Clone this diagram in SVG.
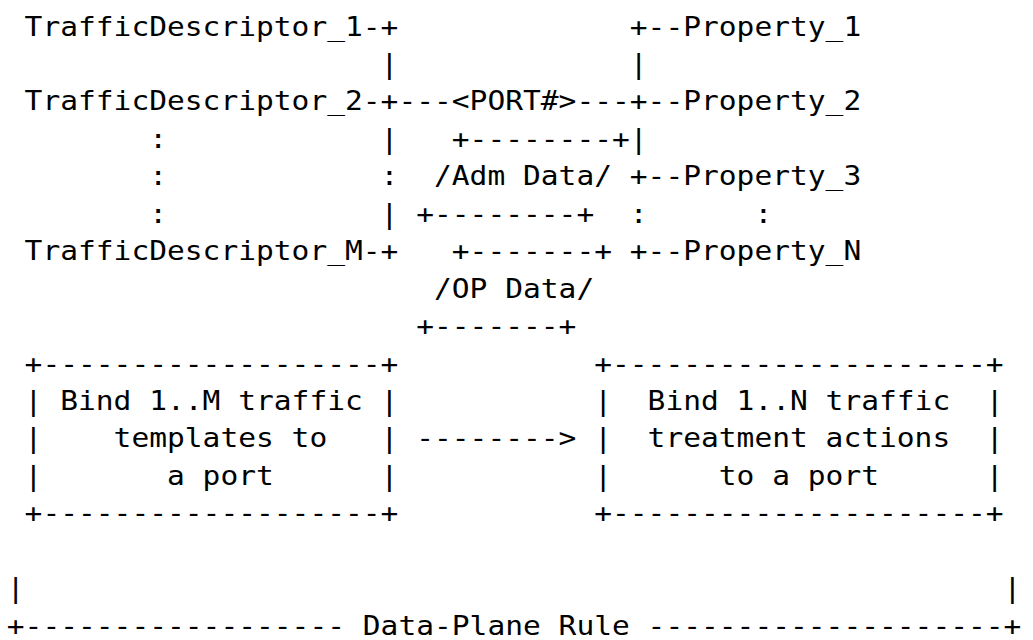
<svg xmlns="http://www.w3.org/2000/svg" width="1033" height="640" viewBox="0 0 1033 640">
<style>
text { font-family: "DejaVu Sans Mono", "Liberation Mono", monospace; font-size: 27px; fill: #000; }
</style>
<rect width="1033" height="640" fill="#fff"/>
<g id="connectors">
<text x="362.8" y="35.5" textLength="35.6" lengthAdjust="spacingAndGlyphs">-+</text>
<text x="629.8" y="35.5" textLength="53.4" lengthAdjust="spacingAndGlyphs">+--</text>
<text x="380.6" y="72.95" textLength="17.8" lengthAdjust="spacingAndGlyphs">|</text>
<text x="629.8" y="72.95" textLength="17.8" lengthAdjust="spacingAndGlyphs">|</text>
<text x="362.8" y="110.4" textLength="89" lengthAdjust="spacingAndGlyphs">-+---</text>
<text x="576.4" y="110.4" textLength="106.8" lengthAdjust="spacingAndGlyphs">---+--</text>
<text x="380.6" y="147.85" textLength="17.8" lengthAdjust="spacingAndGlyphs">|</text>
<text x="629.8" y="147.85" textLength="17.8" lengthAdjust="spacingAndGlyphs">|</text>
<text x="380.6" y="185.3" textLength="17.8" lengthAdjust="spacingAndGlyphs">:</text>
<text x="629.8" y="185.3" textLength="53.4" lengthAdjust="spacingAndGlyphs">+--</text>
<text x="380.6" y="222.75" textLength="17.8" lengthAdjust="spacingAndGlyphs">|</text>
<text x="629.8" y="222.75" textLength="17.8" lengthAdjust="spacingAndGlyphs">:</text>
<text x="362.8" y="260.2" textLength="35.6" lengthAdjust="spacingAndGlyphs">-+</text>
<text x="629.8" y="260.2" textLength="53.4" lengthAdjust="spacingAndGlyphs">+--</text>
<text x="416.2" y="447.45" textLength="160.2" lengthAdjust="spacingAndGlyphs">--------&gt;</text>
</g>
<g id="traffic-descriptors">
<text x="24.6" y="35.5" textLength="338.2" lengthAdjust="spacingAndGlyphs">TrafficDescriptor_1</text>
<text x="24.6" y="110.4" textLength="338.2" lengthAdjust="spacingAndGlyphs">TrafficDescriptor_2</text>
<text x="149.2" y="147.85" textLength="17.8" lengthAdjust="spacingAndGlyphs">:</text>
<text x="149.2" y="185.3" textLength="17.8" lengthAdjust="spacingAndGlyphs">:</text>
<text x="149.2" y="222.75" textLength="17.8" lengthAdjust="spacingAndGlyphs">:</text>
<text x="24.6" y="260.2" textLength="338.2" lengthAdjust="spacingAndGlyphs">TrafficDescriptor_M</text>
</g>
<g id="properties">
<text x="683.2" y="35.5" textLength="178" lengthAdjust="spacingAndGlyphs">Property_1</text>
<text x="683.2" y="110.4" textLength="178" lengthAdjust="spacingAndGlyphs">Property_2</text>
<text x="683.2" y="185.3" textLength="178" lengthAdjust="spacingAndGlyphs">Property_3</text>
<text x="754.4" y="222.75" textLength="17.8" lengthAdjust="spacingAndGlyphs">:</text>
<text x="683.2" y="260.2" textLength="178" lengthAdjust="spacingAndGlyphs">Property_N</text>
</g>
<g id="port">
<text x="451.8" y="110.4" textLength="124.6" lengthAdjust="spacingAndGlyphs">&lt;PORT#&gt;</text>
</g>
<g id="adm-data">
<text x="451.8" y="147.85" textLength="178" lengthAdjust="spacingAndGlyphs">+--------+</text>
<text x="434" y="185.3" textLength="178" lengthAdjust="spacingAndGlyphs">/Adm Data/</text>
<text x="416.2" y="222.75" textLength="178" lengthAdjust="spacingAndGlyphs">+--------+</text>
</g>
<g id="op-data">
<text x="451.8" y="260.2" textLength="160.2" lengthAdjust="spacingAndGlyphs">+-------+</text>
<text x="434" y="297.65" textLength="160.2" lengthAdjust="spacingAndGlyphs">/OP Data/</text>
<text x="416.2" y="335.1" textLength="160.2" lengthAdjust="spacingAndGlyphs">+-------+</text>
</g>
<g id="bind-templates">
<text x="24.6" y="372.55" textLength="373.8" lengthAdjust="spacingAndGlyphs">+-------------------+</text>
<text x="24.6" y="410" textLength="17.8" lengthAdjust="spacingAndGlyphs">|</text>
<text x="60.2" y="410" textLength="302.6" lengthAdjust="spacingAndGlyphs">Bind 1..M traffic</text>
<text x="380.6" y="410" textLength="17.8" lengthAdjust="spacingAndGlyphs">|</text>
<text x="24.6" y="447.45" textLength="17.8" lengthAdjust="spacingAndGlyphs">|</text>
<text x="113.6" y="447.45" textLength="213.6" lengthAdjust="spacingAndGlyphs">templates to</text>
<text x="380.6" y="447.45" textLength="17.8" lengthAdjust="spacingAndGlyphs">|</text>
<text x="24.6" y="484.9" textLength="17.8" lengthAdjust="spacingAndGlyphs">|</text>
<text x="167" y="484.9" textLength="106.8" lengthAdjust="spacingAndGlyphs">a port</text>
<text x="380.6" y="484.9" textLength="17.8" lengthAdjust="spacingAndGlyphs">|</text>
<text x="24.6" y="522.35" textLength="373.8" lengthAdjust="spacingAndGlyphs">+-------------------+</text>
</g>
<g id="bind-actions">
<text x="594.2" y="372.55" textLength="409.4" lengthAdjust="spacingAndGlyphs">+---------------------+</text>
<text x="594.2" y="410" textLength="17.8" lengthAdjust="spacingAndGlyphs">|</text>
<text x="647.6" y="410" textLength="302.6" lengthAdjust="spacingAndGlyphs">Bind 1..N traffic</text>
<text x="985.8" y="410" textLength="17.8" lengthAdjust="spacingAndGlyphs">|</text>
<text x="594.2" y="447.45" textLength="17.8" lengthAdjust="spacingAndGlyphs">|</text>
<text x="647.6" y="447.45" textLength="302.6" lengthAdjust="spacingAndGlyphs">treatment actions</text>
<text x="985.8" y="447.45" textLength="17.8" lengthAdjust="spacingAndGlyphs">|</text>
<text x="594.2" y="484.9" textLength="17.8" lengthAdjust="spacingAndGlyphs">|</text>
<text x="718.8" y="484.9" textLength="160.2" lengthAdjust="spacingAndGlyphs">to a port</text>
<text x="985.8" y="484.9" textLength="17.8" lengthAdjust="spacingAndGlyphs">|</text>
<text x="594.2" y="522.35" textLength="409.4" lengthAdjust="spacingAndGlyphs">+---------------------+</text>
</g>
<g id="data-plane-rule">
<text x="6.8" y="597.25" textLength="17.8" lengthAdjust="spacingAndGlyphs">|</text>
<text x="1003.6" y="597.25" textLength="17.8" lengthAdjust="spacingAndGlyphs">|</text>
<text x="6.8" y="634.7" textLength="338.2" lengthAdjust="spacingAndGlyphs">+------------------</text>
<text x="362.8" y="634.7" textLength="267" lengthAdjust="spacingAndGlyphs">Data-Plane Rule</text>
<text x="647.6" y="634.7" textLength="373.8" lengthAdjust="spacingAndGlyphs">--------------------+</text>
</g>
</svg>
